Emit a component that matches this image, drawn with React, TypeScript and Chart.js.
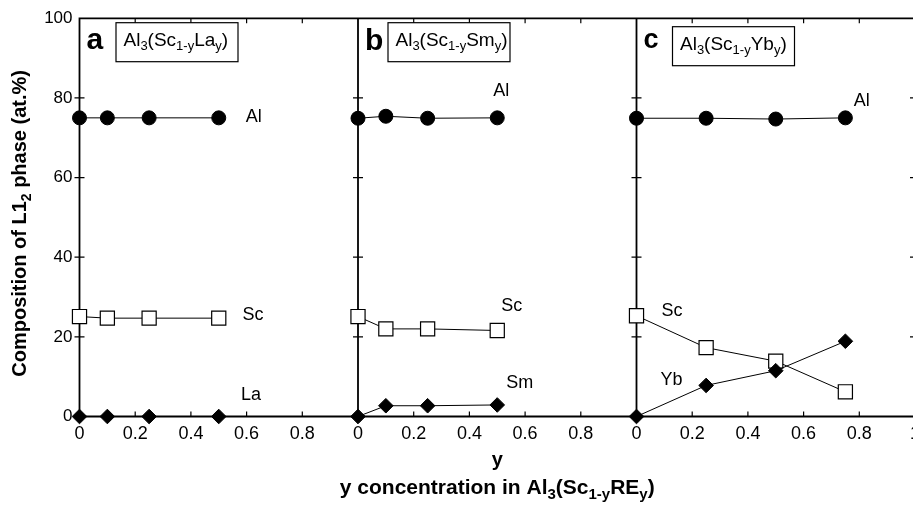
import React, { useEffect, useRef } from 'react';
import { Chart, registerables } from 'chart.js';

Chart.register(...registerables);

const FONT = '"Liberation Sans", Arial, Helvetica, sans-serif';

// ---- data (y concentration and composition in at.%) ----
const yLa = [0, 0.1, 0.25, 0.5];
const alLa = [75.0, 75.0, 75.0, 75.0];
const scLa = [25.1, 24.7, 24.7, 24.7];
const reLa = [0, 0, 0, 0];

const ySm = [0, 0.1, 0.25, 0.5];
const alSm = [74.9, 75.4, 74.9, 75.0];
const scSm = [25.1, 22.0, 22.0, 21.6];
const reSm = [0, 2.7, 2.7, 2.9];

const yYb = [0, 0.25, 0.5, 0.75];
const alYb = [74.9, 74.9, 74.7, 75.0];
const scYb = [25.3, 17.3, 13.9, 6.2];
const reYb = [0, 7.8, 11.5, 18.9];

const panelNames = ['a', 'b', 'c'];
const panelElements = ['La', 'Sm', 'Yb'];

const panelTicks = [0, 0.2, 0.4, 0.6, 0.8];
const panelTickLabels = ['0', '0.2', '0.4', '0.6', '0.8'];
const lastTickLabel = '1';
const yTicks = [0, 20, 40, 60, 80, 100];

// series text labels: panel, x (within panel), y value
const seriesLabels = [
  { text: 'Al', panel: 0, x: 0.597, y: 75.2 },
  { text: 'Sc', panel: 0, x: 0.585, y: 25.4 },
  { text: 'La', panel: 0, x: 0.58, y: 5.5 },
  { text: 'Al', panel: 1, x: 0.486, y: 81.8 },
  { text: 'Sc', panel: 1, x: 0.514, y: 27.7 },
  { text: 'Sm', panel: 1, x: 0.532, y: 8.5 },
  { text: 'Al', panel: 2, x: 0.78, y: 79.3 },
  { text: 'Sc', panel: 2, x: 0.09, y: 26.5 },
  { text: 'Yb', panel: 2, x: 0.086, y: 9.2 },
];

type Part = { t: string; sub?: boolean };

function fontStr(size: number, bold: boolean) {
  return `${bold ? 'bold ' : ''}${size}px ${FONT}`;
}

function drawRich(
  ctx: CanvasRenderingContext2D,
  parts: Part[],
  x: number,
  y: number,
  size: number,
  bold: boolean,
  align: 'left' | 'center',
  subSize: number,
  subDrop: number
) {
  ctx.textBaseline = 'alphabetic';
  ctx.textAlign = 'left';
  const widths = parts.map((p) => {
    ctx.font = fontStr(p.sub ? subSize : size, bold);
    return ctx.measureText(p.t).width;
  });
  const total = widths.reduce((a, b) => a + b, 0);
  let cx = align === 'center' ? x - total / 2 : x;
  parts.forEach((p, i) => {
    ctx.font = fontStr(p.sub ? subSize : size, bold);
    ctx.fillText(p.t, cx, p.sub ? y + subDrop : y);
    cx += widths[i];
  });
}

function formula(el: string): Part[] {
  return [
    { t: 'Al' },
    { t: '3', sub: true },
    { t: '(Sc' },
    { t: '1-y', sub: true },
    { t: el },
    { t: 'y', sub: true },
    { t: ')' },
  ];
}

const framePlugin = {
  id: 'framePlugin',
  beforeDatasetsDraw(chart: any) {
    const { ctx, chartArea } = chart;
    const { left, right, top, bottom } = chartArea;
    const x = chart.scales.x;
    const y = chart.scales.y;
    ctx.save();
    ctx.strokeStyle = '#000';
    ctx.lineWidth = 1.8;
    ctx.beginPath();
    ctx.rect(left, top, right - left, bottom - top);
    for (const p of [1, 2]) {
      const px = x.getPixelForValue(p);
      ctx.moveTo(px, top);
      ctx.lineTo(px, bottom);
    }
    ctx.stroke();
    ctx.lineWidth = 1.2;
    ctx.beginPath();
    for (let p = 0; p < 3; p++) {
      for (const t of panelTicks) {
        if (t === 0) continue;
        const px = x.getPixelForValue(p + t);
        ctx.moveTo(px, bottom);
        ctx.lineTo(px, bottom - 5);
        ctx.moveTo(px, top);
        ctx.lineTo(px, top + 5);
      }
    }
    for (const v of yTicks) {
      if (v === 0 || v === 100) continue;
      const py = y.getPixelForValue(v);
      for (const p of [0, 1, 2]) {
        const px = x.getPixelForValue(p);
        ctx.moveTo(px - 5, py);
        ctx.lineTo(px + 5, py);
      }
      ctx.moveTo(right, py);
      ctx.lineTo(right - 5, py);
    }
    ctx.stroke();
    ctx.restore();
  },
  afterDatasetsDraw(chart: any) {
    const { ctx, chartArea } = chart;
    const { left, right, top, bottom } = chartArea;
    const x = chart.scales.x;
    const y = chart.scales.y;
    ctx.save();
    ctx.fillStyle = '#000';
    // series labels
    ctx.font = fontStr(18, false);
    ctx.textAlign = 'left';
    ctx.textBaseline = 'middle';
    for (const l of seriesLabels) {
      ctx.fillText(l.text, x.getPixelForValue(l.panel + l.x), y.getPixelForValue(l.y));
    }
    // panel letters and formula boxes
    const letterSizes = [30, 30, 27];
    const letterBase = [30.2, 31.2, 29.7];
    const boxLeft = [36.5, 30, 36];
    const boxTop = [4.4, 4.4, 8.4];
    for (let p = 0; p < 3; p++) {
      const px = x.getPixelForValue(p);
      ctx.font = fontStr(letterSizes[p], true);
      ctx.textAlign = 'left';
      ctx.textBaseline = 'alphabetic';
      ctx.fillText(panelNames[p], px + 7, top + letterBase[p]);
      const bx = px + boxLeft[p];
      const by = top + boxTop[p];
      ctx.fillStyle = '#fff';
      ctx.fillRect(bx, by, 122, 39);
      ctx.strokeStyle = '#000';
      ctx.lineWidth = 1.2;
      ctx.strokeRect(bx, by, 122, 39);
      ctx.fillStyle = '#000';
      drawRich(ctx, formula(panelElements[p]), bx + 7.5, by + 23, 19, false, 'left', 13, 4.5);
    }
    // axis titles
    const cx = (left + right) / 2;
    ctx.font = fontStr(20, true);
    ctx.textAlign = 'center';
    ctx.textBaseline = 'alphabetic';
    ctx.fillText('y', cx, 465.5);
    drawRich(
      ctx,
      [
        { t: 'y concentration in Al' },
        { t: '3', sub: true },
        { t: '(Sc' },
        { t: '1-y', sub: true },
        { t: 'RE' },
        { t: 'y', sub: true },
        { t: ')' },
      ],
      cx,
      493.5,
      21,
      true,
      'center',
      15,
      5
    );
    ctx.translate(26, (top + bottom) / 2 + 6);
    ctx.rotate(-Math.PI / 2);
    drawRich(
      ctx,
      [{ t: 'Composition of L1' }, { t: '2', sub: true }, { t: ' phase (at.%)' }],
      0,
      0,
      20,
      true,
      'center',
      14,
      5
    );
    ctx.restore();
  },
};

function makeSeries(panel: number, ys: number[], vals: number[], kind: 'circle' | 'square' | 'diamond', order: number) {
  const base: any = {
    data: ys.map((v, i) => ({ x: panel + v, y: vals[i] })),
    showLine: true,
    borderColor: '#000',
    borderWidth: 1,
    clip: false,
    order,
    pointBorderColor: '#000',
  };
  if (kind === 'circle') {
    return { ...base, pointStyle: 'circle', pointRadius: 7, pointBackgroundColor: '#000', pointBorderWidth: 1 };
  }
  if (kind === 'square') {
    return { ...base, pointStyle: 'rect', pointRadius: 10, pointBackgroundColor: '#fff', pointBorderWidth: 1.2 };
  }
  return { ...base, pointStyle: 'rectRot', pointRadius: 7.3, pointBackgroundColor: '#000', pointBorderWidth: 1 };
}

export default function App() {
  const ref = useRef<HTMLCanvasElement>(null);
  useEffect(() => {
    const datasets = [
      makeSeries(0, yLa, alLa, 'circle', 3),
      makeSeries(0, yLa, scLa, 'square', 2),
      makeSeries(0, yLa, reLa, 'diamond', 1),
      makeSeries(1, ySm, alSm, 'circle', 3),
      makeSeries(1, ySm, scSm, 'square', 2),
      makeSeries(1, ySm, reSm, 'diamond', 1),
      makeSeries(2, yYb, alYb, 'circle', 3),
      makeSeries(2, yYb, scYb, 'square', 2),
      makeSeries(2, yYb, reYb, 'diamond', 1),
    ];
    const xTickValues: number[] = [];
    for (let p = 0; p < 3; p++) for (const t of panelTicks) xTickValues.push(p + t);
    xTickValues.push(3);
    const chart = new Chart(ref.current as HTMLCanvasElement, {
      type: 'scatter',
      data: { datasets },
      options: {
        animation: false,
        responsive: false,
        devicePixelRatio: 1,
        layout: { padding: { left: 0, top: 18.3, right: 45, bottom: 0 } },
        plugins: { legend: { display: false }, tooltip: { enabled: false } },
        scales: {
          x: {
            type: 'linear',
            min: 0,
            max: 3,
            grid: { display: false, drawTicks: false },
            border: { display: false },
            afterBuildTicks: (s: any) => {
              s.ticks = xTickValues.map((v) => ({ value: v }));
            },
            afterFit: (s: any) => {
              s.height = 89.5;
            },
            ticks: {
              autoSkip: false,
              maxRotation: 0,
              minRotation: 0,
              padding: 7,
              color: '#000',
              font: { family: FONT, size: 18 },
              callback: (v: any) => {
                const k = Math.round(Number(v) * 5);
                if (k === 15) return lastTickLabel;
                return panelTickLabels[k % 5];
              },
            },
          },
          y: {
            type: 'linear',
            min: 0,
            max: 100,
            grid: { display: false, drawTicks: false },
            border: { display: false },
            afterBuildTicks: (s: any) => {
              s.ticks = yTicks.map((v) => ({ value: v }));
            },
            afterFit: (s: any) => {
              s.width = 79.5;
            },
            ticks: {
              padding: 7,
              color: '#000',
              font: { family: FONT, size: 17 },
              callback: (v: any) => String(v),
            },
          },
        },
      } as any,
      plugins: [framePlugin],
    });
    return () => chart.destroy();
  }, []);
  return (
    <div
      style={{
        position: 'fixed',
        left: 0,
        top: 0,
        width: 913,
        height: 506,
        overflow: 'hidden',
        background: '#fff',
      }}
    >
      <canvas ref={ref} width={960} height={506} style={{ display: 'block', width: 960, height: 506 }} />
    </div>
  );
}
